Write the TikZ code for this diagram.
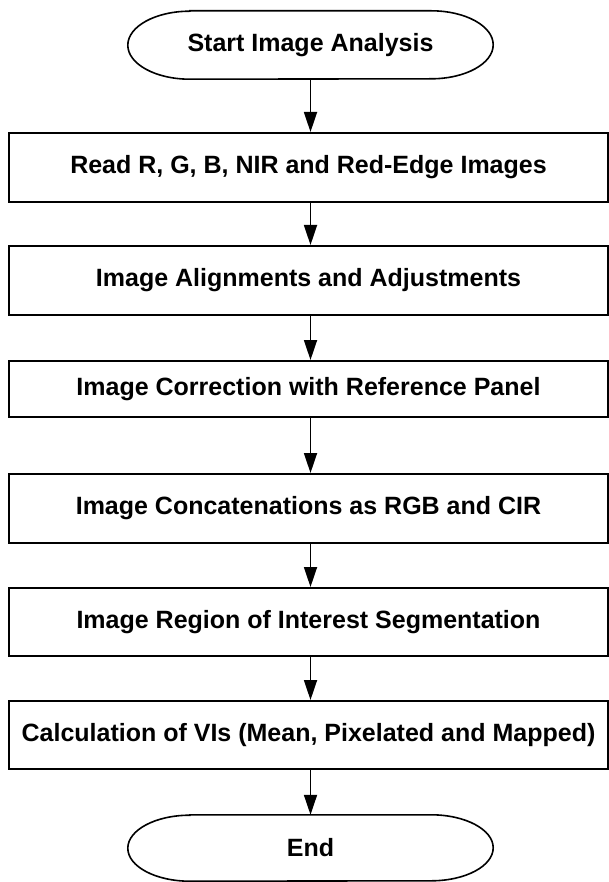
\documentclass[tikz,border=0pt]{standalone}
\usepackage{fontspec}
\setmainfont{Liberation Sans}
\usetikzlibrary{arrows.meta}
\begin{document}
\begin{tikzpicture}[x=1pt,y=1pt,
  every node/.style={font=\fontsize{25}{30}\selectfont\bfseries, inner sep=0pt},
  procbox/.style={draw, line width=2pt, minimum width=599pt},
  termnode/.style={minimum width=365pt},
  termline/.style={line width=1.6pt},
  flow/.style={line width=1.8pt, -{Triangle[length=20pt,width=13pt]}}]
\useasboundingbox (0,0) rectangle (609,-882);
% start terminator
\node[termnode, minimum height=68pt] (start) at (310.5,-45) {Start Image Analysis};
\draw[termline] ([xshift=62pt]start.north west) -- ([xshift=-62pt]start.north east)
  arc[start angle=90,end angle=-90,x radius=62pt,y radius=34pt]
  -- ([xshift=62pt]start.south west)
  arc[start angle=270,end angle=90,x radius=62pt,y radius=34pt] -- cycle;
% process boxes
\node[procbox, minimum height=69pt] (b1) at (308.5,-167.5) {Read R, G, B, NIR and Red-Edge Images};
\node[procbox, minimum height=69pt] (b2) at (308.5,-280.5) {Image Alignments and Adjustments};
\node[procbox, minimum height=56pt] (b3) at (308.5,-389) {Image Correction with Reference Panel};
\node[procbox, minimum height=69pt] (b4) at (308.5,-508.5) {Image Concatenations as RGB and CIR};
\node[procbox, minimum height=68pt] (b5) at (308.5,-622) {Image Region of Interest Segmentation};
\node[procbox, minimum height=68pt] (b6) at (308.5,-735) {Calculation of VIs (Mean, Pixelated and Mapped)};
% end terminator
\node[termnode, minimum height=66pt] (stop) at (310.5,-848) {End};
\draw[termline] ([xshift=62pt]stop.north west) -- ([xshift=-62pt]stop.north east)
  arc[start angle=90,end angle=-90,x radius=62pt,y radius=33pt]
  -- ([xshift=62pt]stop.south west)
  arc[start angle=270,end angle=90,x radius=62pt,y radius=33pt] -- cycle;
% connectors
\draw[flow] (start.south) -- (start.south |- b1.north);
\draw[flow] (b1.south -| start.south) -- (b2.north -| start.south);
\draw[flow] (b2.south -| start.south) -- (b3.north -| start.south);
\draw[flow] (b3.south -| start.south) -- (b4.north -| start.south);
\draw[flow] (b4.south -| start.south) -- (b5.north -| start.south);
\draw[flow] (b5.south -| start.south) -- (b6.north -| start.south);
\draw[flow] (b6.south -| start.south) -- (stop.north);
\end{tikzpicture}
\end{document}
